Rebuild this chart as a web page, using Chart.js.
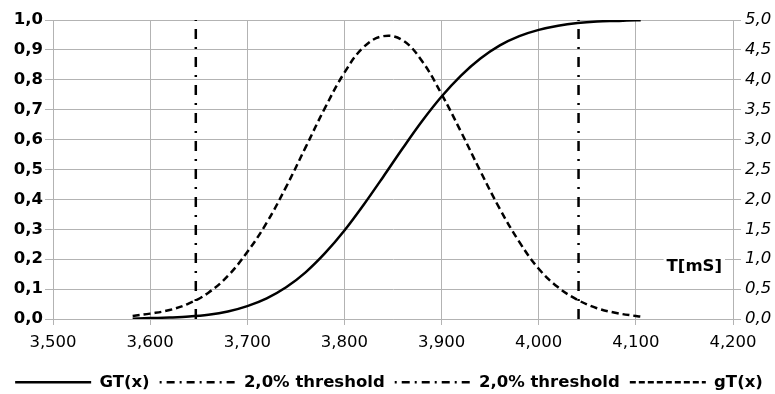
<!DOCTYPE html>
<html><head><meta charset="utf-8">
<script src="https://cdn.jsdelivr.net/npm/chart.js@4"></script>
<style>html,body{margin:0;padding:0;background:#fff}#w{width:775px;height:394px;position:relative}</style>
</head><body><div id="w"><canvas id="c"></canvas></div>
<script>
const xValues=[3582,3600,3620,3640,3660,3680,3700,3720,3740,3760,3780,3800,3820,3840,3860,3880,3900,3920,3940,3960,3980,4000,4020,4040,4060,4080,4100,4105];
const gtCdf=[0.001,0.003,0.005,0.008,0.014,0.025,0.043,0.069,0.106,0.156,0.220,0.296,0.383,0.476,0.571,0.662,0.744,0.814,0.871,0.915,0.946,0.967,0.981,0.990,0.995,0.997,0.999,0.999];
const gtPdf=[0.05,0.09,0.15,0.26,0.44,0.72,1.12,1.61,2.21,2.87,3.53,4.12,4.55,4.73,4.66,4.31,3.76,3.13,2.47,1.84,1.29,0.84,0.53,0.32,0.18,0.10,0.05,0.04];
const thresholdX=[3647,4041];
const thresholdY=[0,1];
const seriesNames=['GT(x)','2,0% threshold','2,0% threshold','gT(x)'];
const unitLabel='T[mS]';
const xRange=[3500,4200,100];
const yLeftRange=[0,1,0.1];
const yRightRange=[0,5,0.5];

const FONT='"DejaVu Sans", sans-serif';
const GRID='#b3b3b3';
const fmt1=v=>v.toFixed(1).replace('.',',');

const pts=(xs,ys)=>xs.map((x,i)=>({x:x,y:ys[i]}));
const DASHDOT=[10,8,2,8];

const labelPlugin={id:'unitLabel',
  beforeInit(c){
    const lg=c.legend; if(!lg) return;
    const f=lg.fit;
    lg.fit=function(){f.call(this); this.height=30;};
  },
  afterDatasetsDraw(c){
  const ctx=c.ctx,a=c.chartArea;
  ctx.save();
  ctx.font='bold 16.5px '+FONT;
  const w=ctx.measureText(unitLabel).width;
  const xr=a.right-11, yc=c.scales.yR.getPixelForValue(0.9)+2;
  ctx.fillStyle='#fff';
  ctx.fillRect(xr-w-3,yc-10,w+6,20);
  ctx.fillStyle='#000';ctx.textAlign='right';ctx.textBaseline='middle';
  ctx.fillText(unitLabel,xr,yc);
  ctx.restore();
}};

new Chart(document.getElementById('c'),{
  type:'line',
  data:{datasets:[
    {label:seriesNames[0],data:pts(xValues,gtCdf),yAxisID:'y',borderColor:'#000',borderWidth:2.5,pointRadius:0,tension:0.4,cubicInterpolationMode:'monotone',fill:false},
    {label:seriesNames[1],data:pts([thresholdX[0],thresholdX[0]],thresholdY),yAxisID:'y',borderColor:'#000',borderWidth:2.5,borderDash:DASHDOT,pointRadius:0,fill:false},
    {label:seriesNames[2],data:pts([thresholdX[1],thresholdX[1]],thresholdY),yAxisID:'y',borderColor:'#000',borderWidth:2.5,borderDash:DASHDOT,pointRadius:0,fill:false},
    {label:seriesNames[3],data:pts(xValues,gtPdf),yAxisID:'yR',borderColor:'#000',borderWidth:2.5,borderDash:[7,4],pointRadius:0,tension:0.4,fill:false}
  ]},
  options:{
    responsive:true,maintainAspectRatio:false,animation:false,
    layout:{padding:{top:20,left:3,right:0,bottom:0}},
    plugins:{
      tooltip:{enabled:false},
      legend:{position:'bottom',
        labels:{usePointStyle:true,pointStyle:'line',pointStyleWidth:76,boxWidth:76,boxHeight:10,padding:10,color:'#000',font:{family:FONT,size:16.5,weight:'bold'},
          generateLabels(ch){
            return ch.data.datasets.map((d,i)=>({text:d.label,datasetIndex:i,strokeStyle:'#000',fillStyle:'#000',lineWidth:2.5,lineDash:i===3?[6,3]:(i===0?[]:[2,5,8,5]),pointStyle:'line',hidden:false,fontColor:'#000'}));
          }}
      }
    },
    scales:{
      x:{type:'linear',min:xRange[0],max:xRange[1],
        ticks:{stepSize:xRange[2],color:'#000',padding:8,font:{family:FONT,size:16.5},callback:v=>v.toLocaleString('en-US')},
        grid:{color:GRID,lineWidth:1,tickLength:6},border:{color:GRID},
        afterFit(s){s.height=45;}},
      y:{position:'left',min:yLeftRange[0],max:yLeftRange[1],
        ticks:{stepSize:yLeftRange[2],color:'#000',padding:2,font:{family:FONT,size:16.5,weight:'bold'},callback:v=>fmt1(v)},
        grid:{color:GRID,lineWidth:1,tickLength:8},border:{color:GRID},
        afterFit(s){s.width=50;}},
      yR:{position:'right',min:yRightRange[0],max:yRightRange[1],
        ticks:{stepSize:yRightRange[2],color:'#000',padding:4,font:{family:FONT,size:16.5,style:'italic'},callback:v=>fmt1(v)},
        grid:{color:GRID,lineWidth:1,tickLength:8,drawOnChartArea:false},border:{color:GRID},
        afterFit(s){s.width=42;}}
    }
  },
  plugins:[labelPlugin]
});
</script></body></html>
